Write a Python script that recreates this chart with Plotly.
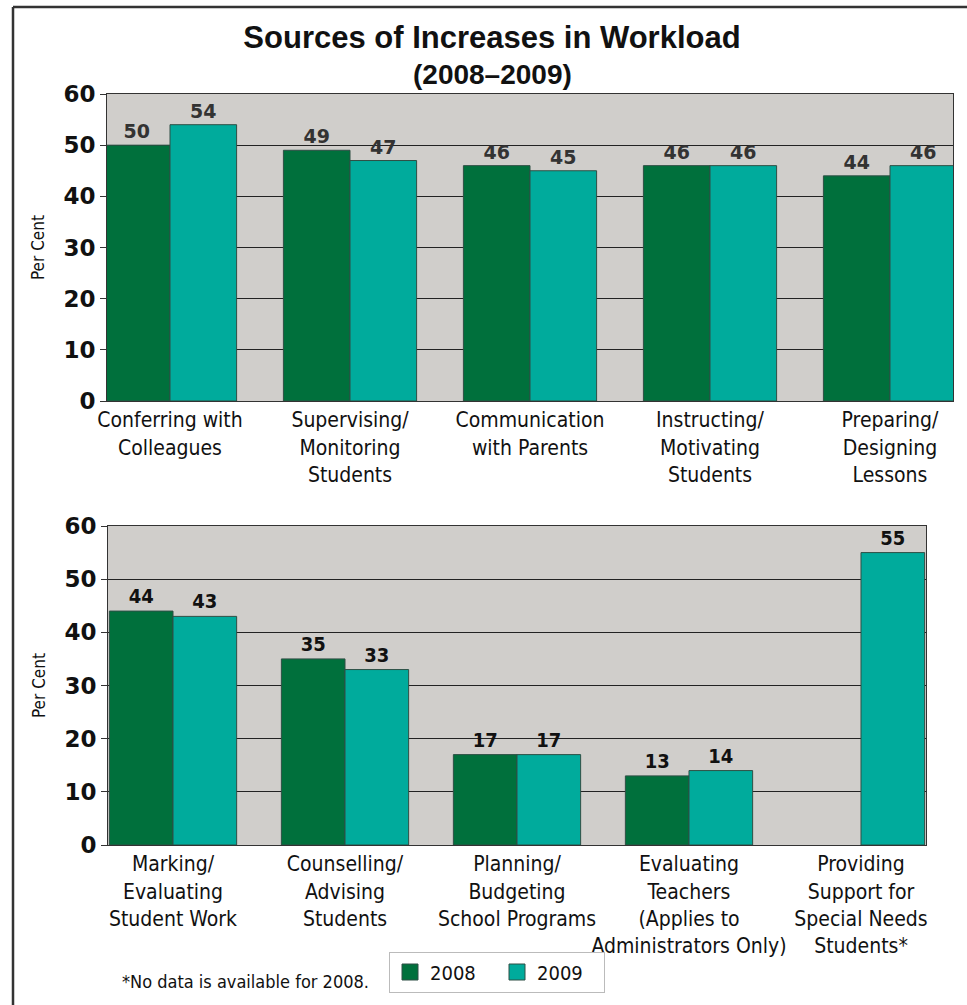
import plotly.graph_objects as go

top_categories = ["Conferring with<br>Colleagues", "Supervising/<br>Monitoring<br>Students",
                  "Communication<br>with Parents", "Instructing/<br>Motivating<br>Students",
                  "Preparing/<br>Designing<br>Lessons"]
top_2008 = [50, 49, 46, 46, 44]
top_2009 = [54, 47, 45, 46, 46]

bottom_categories = ["Marking/<br>Evaluating<br>Student Work", "Counselling/<br>Advising<br>Students",
                     "Planning/<br>Budgeting<br>School Programs",
                     "Evaluating<br>Teachers<br>(Applies to<br>Administrators Only)",
                     "Providing<br>Support for<br>Special Needs<br>Students*"]
bottom_2008 = [44, 35, 17, 13, None]
bottom_2009 = [43, 33, 17, 14, 55]

y_ticks = [0, 10, 20, 30, 40, 50, 60]
series_names = ["2008", "2009"]

GREEN = "#00703C"
TEAL = "#00AB9C"
PLOTBG = "#D0CECB"
NARROW = "Liberation Sans Narrow, DejaVu Sans Condensed, Arial Narrow, sans-serif"
BOLD = "Liberation Sans, Arial, sans-serif"
WIDEBOLD = "DejaVu Sans, Verdana, sans-serif"

W, H = 967, 1005
def px_x(v): return v / W
def px_y(v): return 1 - v / H

fig = go.Figure()

def txt(vals):
    return [("" if v is None else str(v)) for v in vals]

# top chart
for name, vals, col in [(series_names[0], top_2008, GREEN), (series_names[1], top_2009, TEAL)]:
    fig.add_trace(go.Bar(x=top_categories, y=vals, name=name, marker_color=col,
                         marker_line=dict(color="#2E4F45", width=1),
                         text=txt(vals), textposition="outside", cliponaxis=False,
                         textfont=dict(family=WIDEBOLD, size=19, color="#333333", weight="bold"),
                         offsetgroup=name, xaxis="x", yaxis="y", showlegend=False,
                         hoverinfo="skip"))
# bottom chart
for name, vals, col in [(series_names[0], bottom_2008, GREEN), (series_names[1], bottom_2009, TEAL)]:
    fig.add_trace(go.Bar(x=bottom_categories, y=vals, name=name, marker_color=col,
                         marker_line=dict(color="#2E4F45", width=1),
                         text=txt(vals), textposition="outside", cliponaxis=False,
                         textfont=dict(family=NARROW, size=20, color="#111111", weight="bold"),
                         offsetgroup=name, xaxis="x2", yaxis="y2", showlegend=False,
                         hoverinfo="skip"))
# legend swatches
for name, col in [(series_names[0], GREEN), (series_names[1], TEAL)]:
    fig.add_trace(go.Scatter(x=[None], y=[None], mode="markers", name=name,
                             marker=dict(symbol="square", size=16, color=col,
                                         line=dict(color="#2E4F45", width=1)),
                             xaxis="x2", yaxis="y2", showlegend=True))

n_top = len(top_categories)
n_bot = len(bottom_categories)

yaxis_common = dict(range=[0, 60], tickvals=y_ticks, ticks="outside", ticklen=6,
                    tickcolor="#333", showgrid=True, gridcolor="#222222", gridwidth=1,
                    showline=True, linecolor="#333", linewidth=1, mirror=True,
                    zeroline=False, fixedrange=True, automargin=False,
                    tickfont=dict(family=WIDEBOLD, size=23, color="#111", weight="bold"),
                    title=dict(text="Per Cent", font=dict(family=NARROW, size=17, color="#111"),
                               standoff=14))
xaxis_common = dict(showline=True, linecolor="#333", linewidth=1, mirror=True,
                    ticks="", fixedrange=True, automargin=False, tickangle=0,
                    tickfont=dict(family=NARROW, size=21, color="#111"))

fig.update_layout(
    template="none",
    width=W, height=H,
    autosize=False,
    margin=dict(l=0, r=0, t=0, b=0, pad=0),
    paper_bgcolor="white",
    plot_bgcolor=PLOTBG,
    barmode="group",
    bargap=0.26, bargroupgap=0,
    font=dict(family=NARROW, color="#111"),
    title=dict(text="<b>Sources of Increases in Workload</b>",
               font=dict(family=BOLD, size=31, color="#111"),
               x=px_x(492), xanchor="center", y=px_y(37), yanchor="middle"),
    xaxis=dict(domain=[px_x(107), px_x(953)], anchor="y",
               range=[-0.35, n_top - 1 + 0.35], **xaxis_common),
    yaxis=dict(domain=[px_y(401), px_y(94)], anchor="x", **yaxis_common),
    xaxis2=dict(domain=[px_x(108), px_x(926)], anchor="y2",
                range=[-0.378, n_bot - 1 + 0.378], **xaxis_common),
    yaxis2=dict(domain=[px_y(845), px_y(526)], anchor="x2", **yaxis_common),
    legend=dict(orientation="h", x=px_x(497), y=px_y(972), xanchor="center", yanchor="middle",
                bgcolor="white", bordercolor="#BBBBBB", borderwidth=1,
                font=dict(family=NARROW, size=20, color="#111"),
                itemsizing="trace", entrywidth=62, itemclick=False, itemdoubleclick=False),
    annotations=[
        dict(text="<b>(2008–2009)</b>", x=px_x(492), y=px_y(74), xref="paper", yref="paper",
             xanchor="center", yanchor="middle", showarrow=False,
             font=dict(family=BOLD, size=28, color="#111")),
        dict(text="*No data is available for 2008.", x=px_x(120), y=px_y(981),
             xref="paper", yref="paper", xanchor="left", yanchor="middle", showarrow=False,
             font=dict(family=NARROW, size=18, color="#111")),
    ],
    shapes=[
        dict(type="line", xref="paper", yref="paper", x0=px_x(13), x1=px_x(13),
             y0=px_y(7), y1=0, line=dict(color="#333", width=2.5)),
        dict(type="line", xref="paper", yref="paper", x0=px_x(13), x1=1,
             y0=px_y(7), y1=px_y(7), line=dict(color="#333", width=2.5)),
    ],
)

fig.write_html("out.html", config={"displayModeBar": False, "staticPlot": True},
               post_script="document.body.style.margin='0';document.body.style.overflow='hidden';")
